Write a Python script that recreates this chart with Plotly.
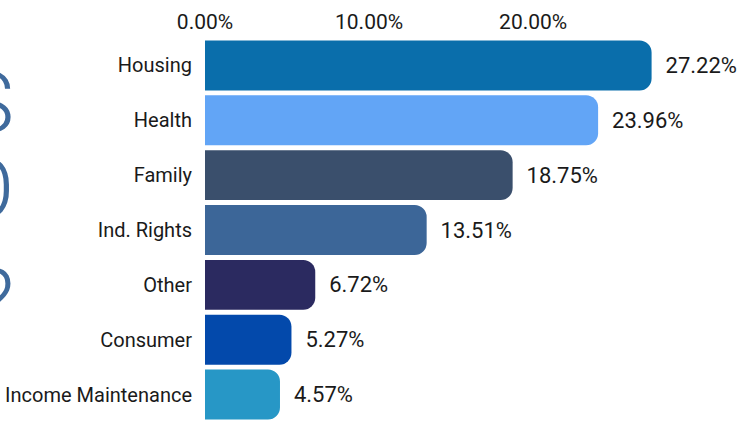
import plotly.graph_objects as go

categories = ["Housing", "Health", "Family", "Ind. Rights", "Other", "Consumer", "Income Maintenance"]
values = [27.22, 23.96, 18.75, 13.51, 6.72, 5.27, 4.57]
colors = ["#0a6eab", "#62a5f6", "#3a4f6c", "#3c6698", "#2b2a60", "#0349ab", "#2797c6"]
tick_vals = [0, 10, 20]
tick_text = ["0.00%", "10.00%", "20.00%"]
side_letters = ["S", "O", "?"]

W, H = 740, 422
ML, MR, MT, MB = 205, 51, 37.5, 0
PW = W - ML - MR
PH = H - MT - MB

fig = go.Figure(go.Bar(
    x=values, y=categories, orientation="h",
    marker=dict(color=colors, line=dict(width=0)),
    texttemplate="\u00a0\u00a0%{x:.2f}%", textposition="outside",
    textfont=dict(family="Roboto", size=22, color="#1a1a1a"),
    cliponaxis=False,
))

fig.update_layout(
    width=W, height=H,
    margin=dict(l=ML, r=MR, t=MT, b=MB, autoexpand=False),
    paper_bgcolor="white", plot_bgcolor="white",
    bargap=0.09, barcornerradius=12,
    showlegend=False,
    font=dict(family="Roboto", color="#1a1a1a"),
    xaxis=dict(side="top", range=[0, 29.5], tickvals=tick_vals, ticktext=tick_text,
               showgrid=False, zeroline=False, automargin=False, ticklabelstandoff=4,
               showline=False, tickfont=dict(size=21, family="Roboto")),
    yaxis=dict(categoryorder="array", categoryarray=categories, autorange="reversed",
               showgrid=False, zeroline=False, showline=False, automargin=False,
               ticklabelstandoff=12, tickfont=dict(size=20, family="Roboto")),
)

letter_y_px = [102, 188, 300]
for letter, ypx in zip(side_letters, letter_y_px):
    fig.add_annotation(
        text=letter, xref="paper", yref="paper",
        x=(16 - ML) / PW, y=1 - (ypx - MT) / PH, xanchor="right", yanchor="middle",
        showarrow=False, font=dict(family="Roboto", size=86, color="#3f6a9c", weight=300),
    )

fig.write_html("out.html", config={"displayModeBar": False},
               post_script="document.body.style.margin='0';")
